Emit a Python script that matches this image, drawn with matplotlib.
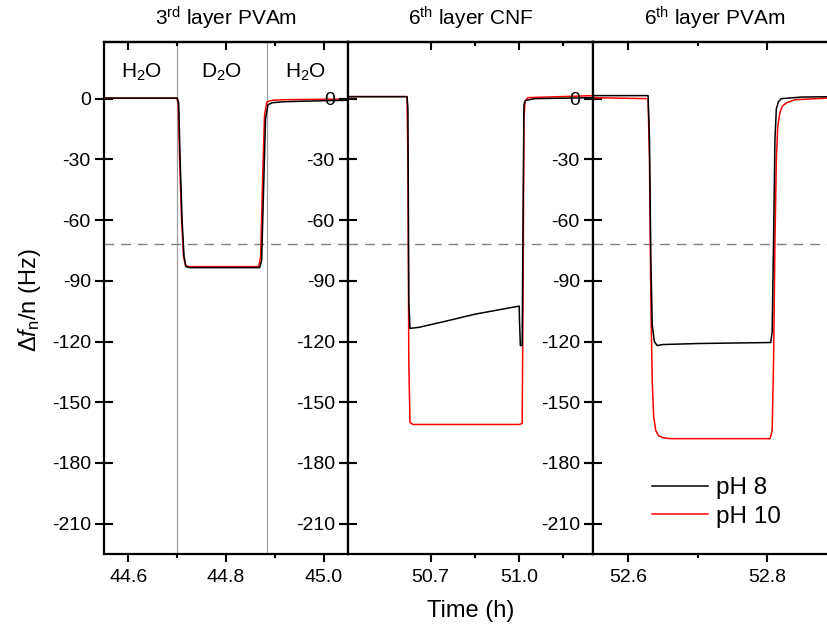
import matplotlib
matplotlib.use("Agg")
import matplotlib.pyplot as plt

plt.rcParams["font.family"] = ["Liberation Sans", "DejaVu Sans"]
plt.rcParams["mathtext.fontset"] = "custom"
plt.rcParams["mathtext.rm"] = "Liberation Sans"
plt.rcParams["mathtext.it"] = "Liberation Sans:italic"
plt.rcParams["mathtext.bf"] = "Liberation Sans:bold"
plt.rcParams["axes.unicode_minus"] = False

# Panel 1: 3rd layer PVAm (H2O -> D2O -> H2O)
t1_ph8 = [44.55, 44.70, 44.703, 44.706, 44.710, 44.714, 44.718, 44.725, 44.80,
          44.869, 44.873, 44.877, 44.881, 44.886, 44.895, 44.92, 45.00, 45.05]
f1_ph8 = [0.3, 0.3, -2, -30, -60, -78, -83, -83.5, -83.5,
          -83.5, -80, -45, -10, -3, -2, -1.5, -1, -0.8]
t1_ph10 = [44.55, 44.699, 44.702, 44.705, 44.709, 44.713, 44.717, 44.725, 44.80,
           44.867, 44.871, 44.875, 44.879, 44.884, 44.895, 44.92, 45.00, 45.05]
f1_ph10 = [0.2, 0.2, -2, -30, -60, -78, -82.5, -83, -83,
           -83, -78, -40, -8, -1.5, -0.8, -0.5, -0.3, -0.2]

# Panel 2: 6th layer CNF
t2_ph8 = [50.42, 50.62, 50.623, 50.626, 50.63, 50.66, 50.75, 50.85, 51.0,
          51.001, 51.004, 51.010, 51.013, 51.016, 51.02, 51.05, 51.25]
f2_ph8 = [1, 1, -5, -100, -113.5, -113, -110, -106.5, -102.5,
          -110, -122, -122, -60, -3, -1, 0, 0.5]
t2_ph10 = [50.42, 50.62, 50.623, 50.626, 50.63, 50.64, 51.0, 51.01,
           51.013, 51.016, 51.02, 51.03, 51.25]
f2_ph10 = [1, 1, -30, -130, -160, -161, -161, -160.5,
           -100, -10, -1, 0.5, 1.5]

# Panel 3: 6th layer PVAm
t3_ph8 = [52.55, 52.629, 52.631, 52.633, 52.635, 52.638, 52.642, 52.65, 52.70,
          52.805, 52.807, 52.809, 52.811, 52.813, 52.816, 52.82, 52.85, 52.90]
f3_ph8 = [1.5, 1.5, -20, -80, -112, -120, -122, -121.5, -121,
          -120.5, -115, -70, -20, -5, -1.5, 0, 0.8, 1]
t3_ph10 = [52.55, 52.629, 52.631, 52.633, 52.635, 52.637, 52.640, 52.644, 52.650,
           52.66, 52.70, 52.804, 52.807, 52.809, 52.811, 52.813, 52.815, 52.818,
           52.822, 52.828, 52.84, 52.90]
f3_ph10 = [0.5, 0, -30, -100, -140, -157, -164, -166.5, -167.5,
           -168, -168, -168, -164, -130, -70, -30, -14, -7,
           -3.5, -2, -0.5, 0.5]

titles = ["3$^{\\rm rd}$ layer PVAm", "6$^{\\rm th}$ layer CNF", "6$^{\\rm th}$ layer PVAm"]
xlims = [(44.55, 45.05), (50.42, 51.25), (52.55, 52.90)]
major_ticks = [[44.6, 44.8, 45.0], [50.7, 51.0], [52.6, 52.8]]
minor_ticks = [[44.7, 44.9], [50.85, 51.15], [52.7]]
yticks = [0, -30, -60, -90, -120, -150, -180, -210]
solvent_x = [44.627, 44.791, 44.963]
solvent_labels = ["H$_2$O", "D$_2$O", "H$_2$O"]
solvent_switch = [44.70, 44.885]
ref_level = -72

series = [((t1_ph8, f1_ph8), (t1_ph10, f1_ph10)),
          ((t2_ph8, f2_ph8), (t2_ph10, f2_ph10)),
          ((t3_ph8, f3_ph8), (t3_ph10, f3_ph10))]

W, H = 828, 635
fig = plt.figure(figsize=(W / 100, H / 100), dpi=100)
edges = [104, 348, 593, 837]
bottom, top = 554, 42

axes = []
for i in range(3):
    ax = fig.add_axes([edges[i] / W, 1 - bottom / H,
                       (edges[i + 1] - edges[i]) / W, (bottom - top) / H])
    axes.append(ax)
    (ta, fa), (tb, fb) = series[i]
    ax.plot(ta, fa, color="black", lw=1.1, label="pH 8", zorder=3)
    ax.plot(tb, fb, color="#ff0000", lw=1.1, label="pH 10", zorder=2)
    ax.axhline(ref_level, color="#808080", lw=1, ls=(0, (7, 5)), zorder=1)

    ax.set_xlim(*xlims[i])
    ax.set_ylim(-225, 28)
    ax.set_xticks(major_ticks[i])
    ax.set_xticks(minor_ticks[i], minor=True)
    ax.set_xticklabels([f"{v:.1f}" for v in major_ticks[i]])
    ax.set_yticks(yticks)
    ax.tick_params(axis="x", which="major", direction="out", length=6, width=1.5,
                   labelsize=14, pad=5)
    ax.tick_params(axis="x", which="minor", direction="out", length=3, width=1.5)
    ax.tick_params(axis="y", which="major", direction="inout", length=13, width=1.5,
                   labelsize=14, pad=3, right=True)
    for s in ax.spines.values():
        s.set_linewidth(1.6)

    # top ticks point inward
    sec = ax.secondary_xaxis("top")
    sec.set_xticks(major_ticks[i])
    sec.set_xticks(minor_ticks[i], minor=True)
    sec.tick_params(axis="x", which="major", direction="in", length=6, width=1.5,
                    labeltop=False)
    sec.tick_params(axis="x", which="minor", direction="in", length=3, width=1.5)
    sec.spines["top"].set_linewidth(1.6)

    ax.set_title(titles[i], fontsize=15, pad=12)

ax1 = axes[0]
for x in solvent_switch:
    ax1.axvline(x, color="#a0a0a0", lw=0.9, zorder=0)
for x, lab in zip(solvent_x, solvent_labels):
    ax1.text(x, 13, lab, ha="center", va="center", fontsize=15)

ax1.set_ylabel("$\\Delta f_{\\rm n}$/n (Hz)", fontsize=17)
ax1.yaxis.set_label_coords(-0.25, 0.496)

fig.text(471 / W, 1 - 611 / H, "Time (h)", ha="center", va="center", fontsize=17)

axes[2].legend(loc="center left", bbox_to_anchor=((652 - 593) / 244, 0.1006),
               frameon=False, fontsize=17.5, handlelength=2.3, handletextpad=0.35,
               labelspacing=0.25, borderaxespad=0, borderpad=0)

fig.savefig("out.png", dpi=100)
